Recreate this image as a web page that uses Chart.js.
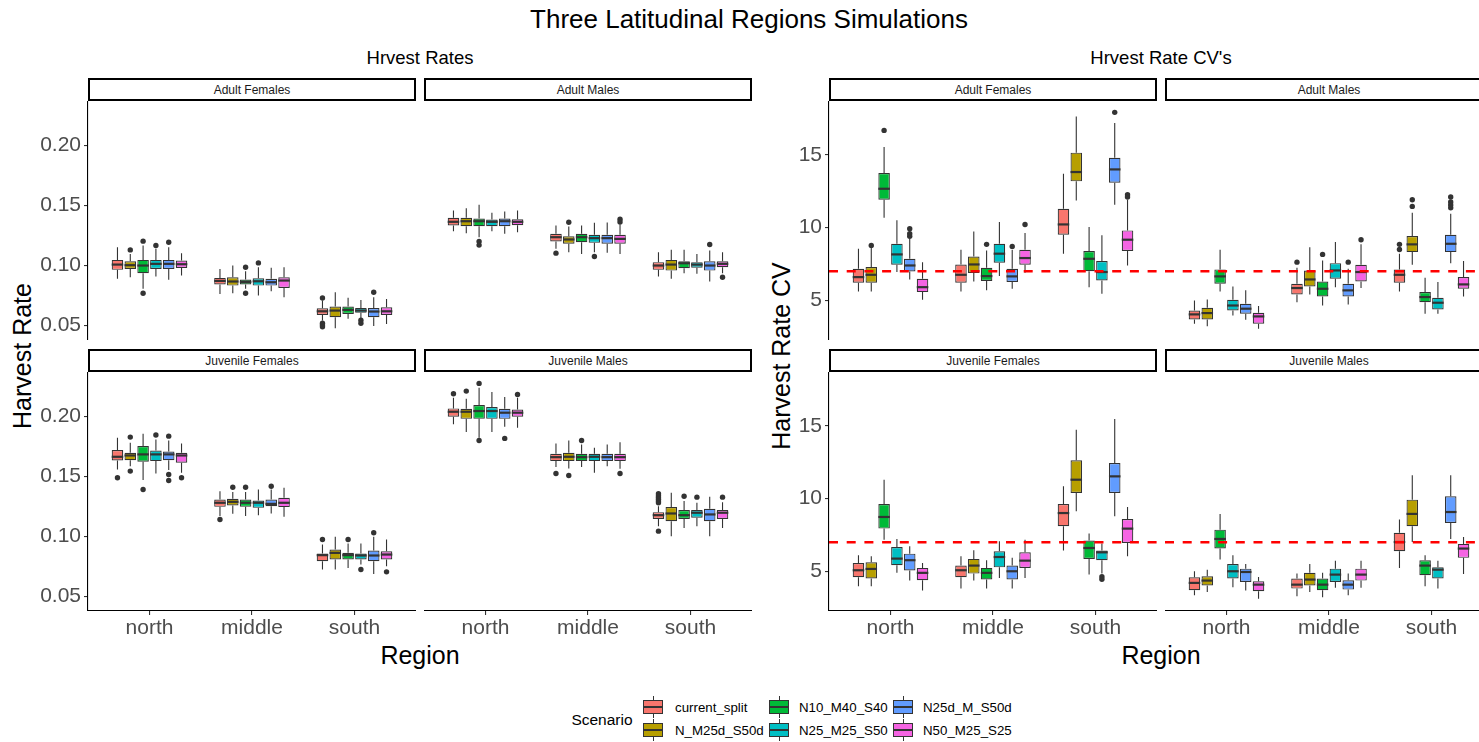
<!DOCTYPE html>
<html>
<head>
<meta charset="utf-8">
<title>Three Latitudinal Regions Simulations</title>
<script src="https://cdn.jsdelivr.net/npm/chart.js@4.4.1/dist/chart.umd.min.js"></script>
<style>
  html, body { margin: 0; padding: 0; background: #fff; }
  #page { position: relative; width: 1479px; height: 742px; overflow: hidden; background: #fff;
          font-family: "Liberation Sans", Arial, sans-serif; }
  .txt { position: absolute; white-space: nowrap; transform: translate(-50%, -50%); color: #000; }
  .strip { position: absolute; box-sizing: border-box; border: 2px solid #000; background: #fff;
           font-size: 12px; color: #1a1a1a; display: flex; align-items: center; justify-content: center; }
  canvas { position: absolute; }
  .key { position: absolute; width: 20px; height: 22px; }
  .key div { position: absolute; }
</style>
</head>
<body>
<div id="page"></div>
<script>
// ---- data ----------------------------------------------------------------
const regions = ['north', 'middle', 'south'];
const scenarios = ['current_split', 'N_M25d_S50d', 'N10_M40_S40', 'N25_M25_S50', 'N25d_M_S50d', 'N50_M25_S25'];
const scenarioColors = ['#F8766D', '#B79F00', '#00BA38', '#00BFC4', '#619CFF', '#F564E3'];
const panelNames = ['Adult Females', 'Adult Males', 'Juvenile Females', 'Juvenile Males'];
const rateTicks = [0.05, 0.10, 0.15, 0.20];
const cvTicks = [5, 10, 15];
const cvTarget = 7;

// one row per scenario, one box per region: [lower whisker, q1, median, q3, upper whisker]
const rateAF = [
  [[0.0889, 0.0964, 0.1008, 0.1047, 0.1153], [0.0764, 0.0842, 0.0872, 0.0897, 0.0972], [0.0542, 0.0589, 0.0619, 0.0644, 0.0708]],
  [[0.0903, 0.0972, 0.1003, 0.1036, 0.1097], [0.0769, 0.0833, 0.0867, 0.0903, 0.1000], [0.0478, 0.0569, 0.0625, 0.0658, 0.0778]],
  [[0.0806, 0.0936, 0.1000, 0.1047, 0.1167], [0.0806, 0.0842, 0.0864, 0.0883, 0.0953], [0.0556, 0.0597, 0.0631, 0.0658, 0.0731]],
  [[0.0908, 0.0972, 0.1014, 0.1047, 0.1139], [0.0750, 0.0833, 0.0869, 0.0894, 0.0986], [0.0564, 0.0606, 0.0625, 0.0647, 0.0714]],
  [[0.0881, 0.0972, 0.1014, 0.1047, 0.1153], [0.0786, 0.0833, 0.0861, 0.0889, 0.0981], [0.0497, 0.0569, 0.0617, 0.0647, 0.0736]],
  [[0.0917, 0.0980, 0.1011, 0.1042, 0.1103], [0.0736, 0.0814, 0.0875, 0.0903, 0.0986], [0.0514, 0.0589, 0.0619, 0.0653, 0.0722]]
];
const rateAFOut = [
  [[], [], [0.0730, 0.0520, 0.0505, 0.0490]],
  [[0.1130], [], []],
  [[0.1203, 0.0769], [0.0986, 0.0769], []],
  [[0.1167], [0.1022], [0.0545, 0.0520]],
  [[0.1194], [], [0.0778]],
  [[], [], []]
];

const rateAM = [
  [[0.1286, 0.1333, 0.1364, 0.1397, 0.1458], [0.1139, 0.1200, 0.1236, 0.1264, 0.1333], [0.0908, 0.0964, 0.1000, 0.1028, 0.1111]],
  [[0.1269, 0.1328, 0.1369, 0.1397, 0.1478], [0.1111, 0.1181, 0.1217, 0.1244, 0.1325], [0.0889, 0.0958, 0.1008, 0.1047, 0.1131]],
  [[0.1236, 0.1328, 0.1369, 0.1392, 0.1506], [0.1097, 0.1194, 0.1236, 0.1264, 0.1333], [0.0936, 0.0978, 0.1019, 0.1036, 0.1131]],
  [[0.1286, 0.1328, 0.1364, 0.1383, 0.1439], [0.1111, 0.1189, 0.1228, 0.1256, 0.1356], [0.0931, 0.0981, 0.1008, 0.1028, 0.1097]],
  [[0.1264, 0.1328, 0.1369, 0.1392, 0.1450], [0.1106, 0.1181, 0.1228, 0.1256, 0.1358], [0.0867, 0.0958, 0.1000, 0.1036, 0.1125]],
  [[0.1278, 0.1336, 0.1364, 0.1386, 0.1458], [0.1097, 0.1181, 0.1222, 0.1256, 0.1342], [0.0936, 0.0986, 0.1014, 0.1036, 0.1111]]
];
const rateAMOut = [
  [[], [0.1103], []],
  [[], [0.1361], []],
  [[0.1200, 0.1170], [], []],
  [[], [0.1075], []],
  [[], [], [0.1175]],
  [[], [0.1386, 0.1362], [0.0903]]
];

const rateJF = [
  [[0.1558, 0.1634, 0.1664, 0.1720, 0.1822], [0.1170, 0.1247, 0.1281, 0.1308, 0.1378], [0.0725, 0.0795, 0.0845, 0.0859, 0.0934]],
  [[0.1586, 0.1636, 0.1675, 0.1697, 0.1781], [0.1189, 0.1258, 0.1289, 0.1314, 0.1370], [0.0725, 0.0809, 0.0864, 0.0892, 0.0998]],
  [[0.1470, 0.1623, 0.1684, 0.1753, 0.1856], [0.1170, 0.1247, 0.1281, 0.1308, 0.1370], [0.0739, 0.0809, 0.0845, 0.0864, 0.0942]],
  [[0.1525, 0.1628, 0.1684, 0.1717, 0.1808], [0.1178, 0.1239, 0.1281, 0.1300, 0.1392], [0.0767, 0.0809, 0.0842, 0.0859, 0.0942]],
  [[0.1553, 0.1636, 0.1684, 0.1708, 0.1800], [0.1192, 0.1253, 0.1272, 0.1308, 0.1392], [0.0689, 0.0795, 0.0842, 0.0884, 0.0998]],
  [[0.1531, 0.1614, 0.1675, 0.1697, 0.1775], [0.1164, 0.1245, 0.1281, 0.1322, 0.1406], [0.0753, 0.0809, 0.0850, 0.0878, 0.0975]]
];
const rateJFOut = [
  [[0.1490], [0.1142], [0.0975]],
  [[0.1828, 0.1545], [0.1411], []],
  [[0.1392], [0.1411], [0.0975]],
  [[0.1845], [], [0.0725]],
  [[0.1836, 0.1517, 0.1467], [0.1419], [0.1031]],
  [[0.1490], [], [0.0706]]
];

const rateJM = [
  [[0.1934, 0.1998, 0.2039, 0.2067, 0.2156], [0.1578, 0.1628, 0.1661, 0.1689, 0.1775], [0.1086, 0.1147, 0.1178, 0.1203, 0.1253]],
  [[0.1870, 0.1980, 0.2039, 0.2064, 0.2147], [0.1567, 0.1628, 0.1664, 0.1697, 0.1800], [0.1003, 0.1128, 0.1192, 0.1245, 0.1364]],
  [[0.1823, 0.1980, 0.2045, 0.2095, 0.2239], [0.1578, 0.1628, 0.1661, 0.1689, 0.1767], [0.1072, 0.1147, 0.1178, 0.1220, 0.1295]],
  [[0.1870, 0.1980, 0.2045, 0.2078, 0.2203], [0.1531, 0.1628, 0.1664, 0.1689, 0.1739], [0.1086, 0.1156, 0.1198, 0.1220, 0.1281]],
  [[0.1914, 0.1980, 0.2031, 0.2064, 0.2161], [0.1586, 0.1628, 0.1661, 0.1689, 0.1767], [0.1003, 0.1128, 0.1184, 0.1231, 0.1331]],
  [[0.1906, 0.1998, 0.2031, 0.2058, 0.2156], [0.1564, 0.1628, 0.1661, 0.1689, 0.1786], [0.1072, 0.1147, 0.1198, 0.1220, 0.1286]]
];
const rateJMOut = [
  [[0.2189], [0.1525], [0.1356, 0.1340, 0.1325, 0.1310, 0.1295, 0.1281, 0.1045]],
  [[0.2211], [0.1508], []],
  [[0.2275, 0.1800], [0.1800], [0.1336]],
  [[], [], [0.1328]],
  [[0.1817], [], []],
  [[0.2183], [0.1525], [0.1328]]
];

const cvAF = [
  [[5.61, 6.20, 6.59, 7.16, 8.54], [5.61, 6.20, 6.75, 7.46, 8.47], [8.20, 9.50, 10.21, 11.29, 13.69]],
  [[5.61, 6.20, 6.75, 7.28, 8.65], [6.29, 6.87, 7.46, 8.01, 9.73], [11.86, 13.17, 13.81, 15.14, 17.63]],
  [[10.67, 11.91, 12.66, 13.74, 15.53], [5.68, 6.32, 6.66, 7.23, 8.42], [5.90, 7.00, 7.85, 8.38, 10.03]],
  [[6.94, 7.44, 8.15, 8.88, 10.49], [6.66, 7.58, 8.20, 8.88, 10.37], [5.45, 6.36, 6.94, 7.69, 9.46]],
  [[6.43, 6.98, 7.39, 7.85, 9.23], [5.79, 6.25, 6.64, 7.16, 8.47], [11.56, 13.08, 13.99, 14.79, 17.18]],
  [[5.03, 5.56, 5.90, 6.48, 7.62], [6.89, 7.44, 7.90, 8.47, 9.62], [7.39, 8.38, 9.16, 9.80, 11.91]]
];
const cvAFOut = [
  [[], [], []],
  [[8.77], [], []],
  [[16.67], [8.84], []],
  [[], [], []],
  [[9.91, 9.57, 9.39], [8.70], [17.91]],
  [[], [10.21], [12.25, 12.09]]
];

const cvAM = [
  [[3.39, 3.68, 4.03, 4.30, 4.99], [4.87, 5.40, 5.84, 6.13, 7.23], [5.61, 6.20, 6.75, 7.12, 8.20]],
  [[3.22, 3.68, 4.12, 4.48, 5.06], [5.40, 5.95, 6.43, 7.05, 8.65], [7.44, 8.31, 8.84, 9.41, 11.01]],
  [[5.61, 6.13, 6.64, 7.12, 8.47], [4.64, 5.26, 5.79, 6.29, 7.74], [4.07, 4.87, 5.22, 5.56, 6.55]],
  [[3.96, 4.30, 4.64, 5.03, 5.95], [5.90, 6.48, 7.05, 7.55, 9.00], [4.07, 4.37, 4.83, 5.17, 6.25]],
  [[3.66, 4.07, 4.42, 4.76, 5.68], [4.71, 5.26, 5.68, 6.13, 7.16], [7.55, 8.31, 8.88, 9.50, 10.95]],
  [[3.04, 3.39, 3.89, 4.14, 4.60], [5.84, 6.29, 6.94, 7.44, 8.84], [5.26, 5.79, 6.09, 6.59, 7.69]]
];
const cvAMOut = [
  [[], [7.62], [8.84, 8.49]],
  [[], [], [11.91, 11.45]],
  [[], [8.15], []],
  [[], [], []],
  [[], [7.62], [12.09, 11.75, 11.55, 11.35]],
  [[], [9.16], []]
];

const cvJF = [
  [[3.97, 4.59, 5.07, 5.57, 6.10], [3.81, 4.59, 5.07, 5.39, 6.03], [6.42, 8.09, 9.00, 9.62, 10.84]],
  [[3.97, 4.50, 5.16, 5.62, 6.03], [4.36, 4.84, 5.39, 5.85, 6.44], [9.12, 10.38, 11.29, 12.62, 14.73]],
  [[7.17, 7.93, 8.73, 9.62, 11.29], [3.81, 4.43, 4.89, 5.23, 5.76], [4.77, 5.85, 6.60, 7.11, 7.59]],
  [[4.89, 5.41, 5.87, 6.67, 7.22], [4.54, 5.27, 5.98, 6.37, 7.06], [4.84, 5.76, 6.30, 6.42, 6.90]],
  [[4.36, 5.05, 5.76, 6.21, 6.72], [3.81, 4.43, 5.00, 5.39, 5.92], [8.78, 10.38, 11.52, 12.44, 15.46]],
  [[3.67, 4.38, 4.89, 5.23, 5.57], [4.54, 5.23, 5.73, 6.30, 7.17], [6.03, 6.95, 7.93, 8.59, 9.42]]
];
const cvJFOut = [
  [[], [], []],
  [[], [], []],
  [[], [], []],
  [[], [], [4.62, 4.45]],
  [[], [], []],
  [[], [], []]
];

const cvJM = [
  [[3.35, 3.70, 4.20, 4.59, 5.00], [3.28, 3.81, 4.08, 4.50, 4.84], [5.23, 6.37, 7.01, 7.64, 8.55]],
  [[3.58, 4.02, 4.36, 4.66, 5.11], [3.58, 4.02, 4.43, 4.89, 5.50], [7.01, 8.09, 8.94, 9.92, 11.59]],
  [[5.80, 6.56, 7.22, 7.86, 8.94], [3.22, 3.70, 4.08, 4.50, 4.89], [3.97, 4.73, 5.39, 5.76, 6.10]],
  [[3.90, 4.50, 5.00, 5.50, 6.10], [3.86, 4.27, 4.77, 5.18, 5.73], [3.81, 4.50, 5.11, 5.27, 5.73]],
  [[3.67, 4.27, 4.95, 5.18, 5.50], [3.35, 3.74, 4.08, 4.38, 4.84], [7.22, 8.32, 9.07, 10.15, 11.59]],
  [[3.12, 3.63, 4.08, 4.31, 4.61], [3.86, 4.36, 4.77, 5.18, 5.73], [4.82, 5.92, 6.56, 6.88, 7.36]]
];
const cvJMOut = [
  [[], [], []], [[], [], []], [[], [], []], [[], [], []], [[], [], []], [[], [], []]
];

// ---- layout --------------------------------------------------------------
const FONT = '"Liberation Sans", Arial, sans-serif';
const page = document.getElementById('page');

const groups = [
  { boxes: [rateAF, rateAM, rateJF, rateJM], outs: [rateAFOut, rateAMOut, rateJFOut, rateJMOut],
    left: 88, min: 0.038, max: 0.237, ticks: rateTicks, fmt: v => v.toFixed(2), ref: null,
    title: 'Hrvest Rates', yTitle: 'Harvest Rate', yTitleX: 22 },
  { boxes: [cvAF, cvAM, cvJF, cvJM], outs: [cvAFOut, cvAMOut, cvJFOut, cvJMOut],
    left: 829, min: 2.27, max: 18.69, ticks: cvTicks, fmt: v => String(v), ref: cvTarget,
    title: "Hrvest Rate CV's", yTitle: 'Harvest Rate CV', yTitleX: 781 }
];
const panelW = 328, panelH = 239, colGap = 8;
const rowTop = [101, 372], stripTop = [78, 349], stripH = 23;
const axisW = 60, axisH = 40;

function addText(text, x, y, size, extra) {
  const d = document.createElement('div');
  d.className = 'txt';
  d.textContent = text;
  d.style.left = x + 'px';
  d.style.top = y + 'px';
  d.style.fontSize = size + 'px';
  if (extra) Object.assign(d.style, extra);
  page.appendChild(d);
  return d;
}

// whiskers under the boxes, medians / outliers / reference line over them
const boxPlugin = {
  id: 'boxExtras',
  beforeDatasetsDraw(chart) {
    const ctx = chart.ctx, y = chart.scales.y;
    ctx.save();
    ctx.strokeStyle = '#333333';
    ctx.lineWidth = 1.1;
    chart.data.datasets.forEach((ds, i) => {
      chart.getDatasetMeta(i).data.forEach((bar, j) => {
        const s = ds.stats[j];
        ctx.beginPath();
        ctx.moveTo(bar.x, y.getPixelForValue(s[4]));
        ctx.lineTo(bar.x, y.getPixelForValue(s[3]));
        ctx.moveTo(bar.x, y.getPixelForValue(s[1]));
        ctx.lineTo(bar.x, y.getPixelForValue(s[0]));
        ctx.stroke();
      });
    });
    ctx.restore();
  },
  afterDatasetsDraw(chart, args, opts) {
    const ctx = chart.ctx, y = chart.scales.y, area = chart.chartArea;
    ctx.save();
    chart.data.datasets.forEach((ds, i) => {
      chart.getDatasetMeta(i).data.forEach((bar, j) => {
        const s = ds.stats[j];
        const ym = y.getPixelForValue(s[2]);
        ctx.strokeStyle = '#333333';
        ctx.lineWidth = 2.2;
        ctx.beginPath();
        ctx.moveTo(bar.x - bar.width / 2, ym);
        ctx.lineTo(bar.x + bar.width / 2, ym);
        ctx.stroke();
        ctx.fillStyle = '#333333';
        ds.outliers[j].forEach(v => {
          ctx.beginPath();
          ctx.arc(bar.x, y.getPixelForValue(v), 2.7, 0, Math.PI * 2);
          ctx.fill();
        });
      });
    });
    if (opts.ref != null) {
      const yr = y.getPixelForValue(opts.ref);
      ctx.strokeStyle = '#FF0000';
      ctx.lineWidth = 2.5;
      ctx.setLineDash([9, 8.7]);
      ctx.beginPath();
      ctx.moveTo(area.left, yr);
      ctx.lineTo(area.right, yr);
      ctx.stroke();
    }
    ctx.restore();
  }
};

function makePanel(g, p) {
  const grp = groups[g];
  const row = Math.floor(p / 2), col = p % 2;
  const px = grp.left + col * (panelW + colGap);
  const showY = col === 0, showX = row === 1;

  const strip = document.createElement('div');
  strip.className = 'strip';
  strip.style.left = px + 'px';
  strip.style.top = stripTop[row] + 'px';
  strip.style.width = panelW + 'px';
  strip.style.height = stripH + 'px';
  strip.textContent = panelNames[p];
  page.appendChild(strip);

  const cv = document.createElement('canvas');
  const w = panelW + (showY ? axisW : 0), h = panelH + (showX ? axisH : 0);
  cv.width = w; cv.height = h;
  cv.style.width = w + 'px'; cv.style.height = h + 'px';
  cv.style.left = (px - (showY ? axisW : 0)) + 'px';
  cv.style.top = rowTop[row] + 'px';
  page.appendChild(cv);

  const datasets = scenarios.map((name, i) => ({
    label: name,
    data: regions.map((r, j) => ({ x: j + 1, y: [grp.boxes[p][i][j][1], grp.boxes[p][i][j][3]] })),
    stats: grp.boxes[p][i],
    outliers: grp.outs[p][i],
    backgroundColor: scenarioColors[i],
    borderColor: '#333333',
    borderWidth: 1.2,
    borderSkipped: false,
    inflateAmount: 0,
    categoryPercentage: 0.75,
    barPercentage: 0.9
  }));

  new Chart(cv, {
    type: 'bar',
    data: { datasets },
    options: {
      responsive: false,
      animation: false,
      layout: { padding: 0 },
      plugins: { legend: { display: false }, tooltip: { enabled: false }, boxExtras: { ref: grp.ref } },
      scales: {
        x: {
          type: 'linear', min: 0.4, max: 3.6, display: showX, offset: false,
          afterBuildTicks: s => { s.ticks = regions.map((r, j) => ({ value: j + 1 })); },
          afterFit: s => { if (showX) s.height = axisH; s.paddingLeft = 0; s.paddingRight = 0; },
          ticks: { callback: v => regions[v - 1], color: '#4D4D4D', font: { family: FONT, size: 21 },
                   padding: 1, maxRotation: 0, autoSkip: false },
          grid: { display: true, offset: false, drawOnChartArea: false, drawTicks: true, tickLength: 4,
                  color: '#333333', lineWidth: 1.1 },
          border: { display: true, color: '#000000', width: 1.1 }
        },
        y: {
          type: 'linear', min: grp.min, max: grp.max, display: showY,
          afterBuildTicks: s => { s.ticks = grp.ticks.map(v => ({ value: v })); },
          afterFit: s => { if (showY) s.width = axisW; s.paddingTop = 0; s.paddingBottom = 0; },
          ticks: { callback: v => grp.fmt(v), color: '#4D4D4D', font: { family: FONT, size: 21 }, padding: 3 },
          grid: { display: true, offset: false, drawOnChartArea: false, drawTicks: true, tickLength: 4,
                  color: '#333333', lineWidth: 1.1 },
          border: { display: true, color: '#000000', width: 1.1 }
        }
      }
    },
    plugins: [boxPlugin]
  });
}

// titles
addText('Three Latitudinal Regions Simulations', 749, 19, 26);
groups.forEach((grp, g) => {
  const cx = grp.left + panelW + colGap / 2;
  addText(grp.title, cx, 58, 18.5);
  addText('Region', cx, 655, 25);
  addText(grp.yTitle, grp.yTitleX, 356, 25, { transform: 'translate(-50%, -50%) rotate(-90deg)' });
  for (let p = 0; p < 4; p++) makePanel(g, p);
});

// legend
addText('Scenario', 602, 720, 15.5);
scenarios.forEach((name, i) => {
  const col = Math.floor(i / 2), row = i % 2;
  const kx = [643, 769, 893][col], tx = [675, 799, 923][col], yc = [707, 730][row];
  const key = document.createElement('div');
  key.className = 'key';
  key.style.left = kx + 'px';
  key.style.top = (yc - 11) + 'px';
  key.innerHTML =
    '<div style="left:9.5px;top:0;width:1px;height:22px;background:#333"></div>' +
    '<div style="left:0;top:4px;width:18px;height:12px;border:1px solid #333;background:' + scenarioColors[i] + '"></div>' +
    '<div style="left:0;top:10px;width:20px;height:2px;background:#333"></div>';
  page.appendChild(key);
  addText(name, tx, yc, 13.3, { transform: 'translate(0, -50%)' });
});
</script>
</body>
</html>
